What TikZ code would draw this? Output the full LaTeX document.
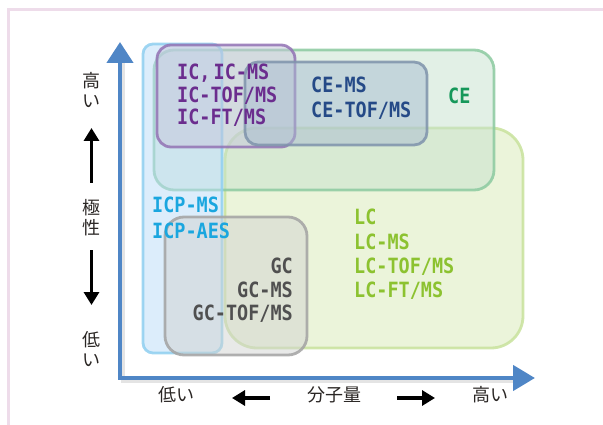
\documentclass[tikz,border=0pt]{standalone}
\usepackage{fontspec}
\usetikzlibrary{arrows.meta}
\newfontfamily\labfont[FakeStretch=0.88]{DejaVu Sans Mono}
\newfontfamily\cjk{Noto Sans CJK JP}
\definecolor{framepink}{HTML}{EEDCEA}
\definecolor{axisblue}{HTML}{4F86C6}
\definecolor{jpblack}{HTML}{2A2624}
\definecolor{icpfill}{HTML}{B9DBF7}
\definecolor{icpline}{HTML}{8FCFF0}
\definecolor{icfill}{HTML}{C4C6DA}
\definecolor{icline}{HTML}{9272B4}
\definecolor{cefill}{HTML}{C5E1CD}
\definecolor{celine}{HTML}{8CCAA0}
\definecolor{cemsfill}{HTML}{A8BCD0}
\definecolor{cemsline}{HTML}{7F93AB}
\definecolor{lcfill}{HTML}{D7E9B5}
\definecolor{lcline}{HTML}{C8E29C}
\definecolor{gcfill}{HTML}{D1D3D1}
\definecolor{gcline}{HTML}{A3A3A3}
\definecolor{ictext}{HTML}{6B2D8E}
\definecolor{cemstext}{HTML}{254A87}
\definecolor{cetext}{HTML}{16985A}
\definecolor{icptext}{HTML}{1AA6DF}
\definecolor{gctext}{HTML}{505050}
\definecolor{lctext}{HTML}{8CC230}
\tikzset{
  region/.style={line width=2.8pt, fill opacity=0.5, draw opacity=0.85},
  lab/.style={inner sep=0pt, font=\labfont\bfseries\fontsize{21}{24}\selectfont},
  jp/.style={inner sep=0pt, text=jpblack, align=center, font=\cjk\fontsize{18}{20}\selectfont},
  smallarrow/.style={draw=black, line width=3.5pt, -{Triangle[length=13pt,width=15pt]}},
  axis/.style={line width=4.5pt, draw=axisblue, line join=miter,
    {Triangle[length=21pt,width=26pt,fill=axisblue]}-{Triangle[length=22pt,width=25pt,fill=axisblue]}}
}
\begin{document}
\begin{tikzpicture}[x=1pt,y=-1pt]
\useasboundingbox (0,0) rectangle (603,425);
% frame
\draw[framepink, line width=3pt] (8,425) -- (8,10) -- (603,10);
% regions
\draw[region, draw=lcline, fill=lcfill, rounded corners=32pt] (225,128) rectangle (523,348);
\draw[region, draw=celine, fill=cefill, rounded corners=20pt] (154,50) rectangle (494,190);
\draw[region, draw=icpline, fill=icpfill, rounded corners=10pt] (143,44) rectangle (222,353);
\draw[region, draw=gcline, fill=gcfill, rounded corners=19pt] (165,217) rectangle (307,355);
\draw[region, draw=icline, fill=icfill, rounded corners=14pt] (157,45) rectangle (295,147);
\draw[region, draw=cemsline, fill=cemsfill, rounded corners=13pt] (245,62) rectangle (427,145);
% axes
\coordinate (ytip) at (120,42);
\coordinate (orig) at (120,378);
\coordinate (xtip) at (535,378);
\draw[line width=4.5pt, draw=gray!60, opacity=0.35] (123,60) -- (123,381) -- (515,381);
\draw[axis] (ytip) -- (orig) -- (xtip);
% labels
\node[lab, text=ictext, anchor=base west] (ic1) at (177,80) {IC, \kern-8pt IC-MS};
\node[lab, text=ictext, anchor=base west] (ic2) at (177,103) {IC-TOF/MS};
\node[lab, text=ictext, anchor=base west] (ic3) at (177,125) {IC-FT/MS};
\node[lab, text=cemstext, anchor=base west] (cems1) at (311,93) {CE-MS};
\node[lab, text=cemstext, anchor=base west] (cems2) at (311,118) {CE-TOF/MS};
\node[lab, text=cetext, anchor=base west] (ce) at (448,104) {CE};
\node[lab, text=icptext, anchor=base west] (icp1) at (152,213) {ICP-MS};
\node[lab, text=icptext, anchor=base west] (icp2) at (152,238) {ICP-AES};
\node[lab, text=gctext, anchor=base east] (gc1) at (293,273) {GC};
\node[lab, text=gctext, anchor=base east] (gc2) at (293,297) {GC-MS};
\node[lab, text=gctext, anchor=base east] (gc3) at (293,320) {GC-TOF/MS};
\node[lab, text=lctext, anchor=base west] (lc1) at (354,225) {LC};
\node[lab, text=lctext, anchor=base west] (lc2) at (354,250) {LC-MS};
\node[lab, text=lctext, anchor=base west] (lc3) at (354,273) {LC-TOF/MS};
\node[lab, text=lctext, anchor=base west] (lc4) at (354,297) {LC-FT/MS};
% vertical axis labels
\node[jp] (vhigh) at (91,90.5) {高\\い};
\node[jp] (vpol) at (91,217.5) {極\\性};
\node[jp] (vlow) at (91,349) {低\\い};
\coordinate (upfrom) at (91.5,183);
\coordinate (upto) at (91.5,128);
\coordinate (dnfrom) at (91.5,250);
\coordinate (dnto) at (91.5,305);
\draw[smallarrow] (upfrom) -- (upto);
\draw[smallarrow] (dnfrom) -- (dnto);
% horizontal axis labels
\node[jp] (hlow) at (176.5,395) {低い};
\node[jp] (hmw) at (334,395) {分子量};
\node[jp] (hhigh) at (490,395) {高い};
\coordinate (lfrom) at (270,398);
\coordinate (lto) at (232,398);
\coordinate (rfrom) at (397,398);
\coordinate (rto) at (435,398);
\draw[smallarrow] (lfrom) -- (lto);
\draw[smallarrow] (rfrom) -- (rto);
\end{tikzpicture}
\end{document}
